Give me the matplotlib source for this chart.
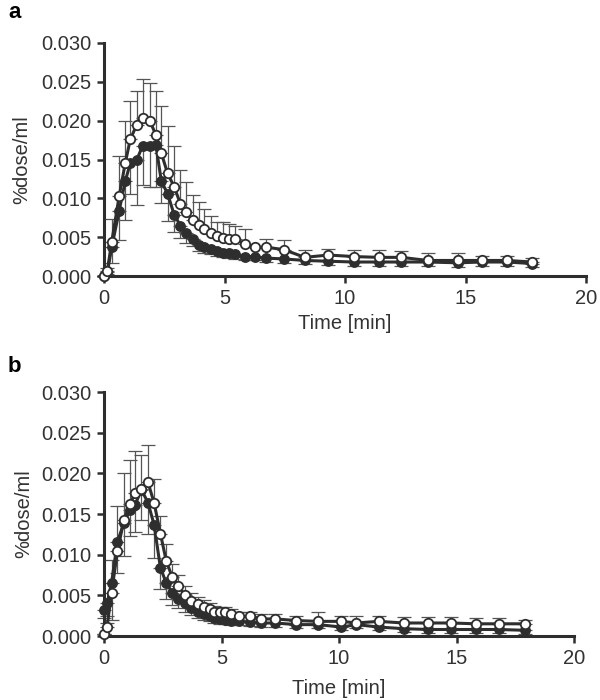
import numpy as np
import matplotlib
matplotlib.use("Agg")
import matplotlib.pyplot as plt

plt.rcParams['font.family'] = ['Liberation Sans', 'DejaVu Sans']

# ---------------- Panel a ----------------
a_t = [0, 0.14, 0.32, 0.63, 0.88, 1.09, 1.35, 1.61, 1.91, 2.15, 2.38, 2.64, 2.91,
       3.17, 3.42, 3.68, 3.93, 4.17, 4.42, 4.68, 4.93, 5.18, 5.43, 5.86, 6.25,
       6.74, 7.46, 8.33, 9.31, 10.39, 11.40, 12.34, 13.43, 14.68, 15.70, 16.72, 17.77]
a_open = [0.0000, 0.0007, 0.0044, 0.0103, 0.0145, 0.0176, 0.0194, 0.0204, 0.0199,
          0.0182, 0.0158, 0.0132, 0.0115, 0.0093, 0.0082, 0.0072, 0.0066, 0.0061,
          0.0056, 0.0052, 0.0049, 0.0048, 0.0048, 0.0041, 0.0037, 0.0037, 0.0034,
          0.0024, 0.0027, 0.0025, 0.0024, 0.0024, 0.0020, 0.0020, 0.0020, 0.0020, 0.0018]
a_open_err = [0.0000, 0.0003, 0.0029, 0.0051, 0.0054, 0.0049, 0.0044, 0.0050, 0.0050,
              0.0056, 0.0061, 0.0061, 0.0053, 0.0044, 0.0039, 0.0032, 0.0029, 0.0025,
              0.0021, 0.0018, 0.0020, 0.0019, 0.0016, 0.0020, 0.0000, 0.0011, 0.0012,
              0.0009, 0.0008, 0.0008, 0.0009, 0.0008, 0.0010, 0.0009, 0.0006, 0.0006, 0.0005]
a_fill = [0.0000, 0.0005, 0.0037, 0.0084, 0.0122, 0.0145, 0.0149, 0.0168, 0.0168,
          0.0169, 0.0122, 0.0106, 0.0079, 0.0065, 0.0055, 0.0047, 0.0040, 0.0037,
          0.0035, 0.0032, 0.0030, 0.0029, 0.0028, 0.0025, 0.0025, 0.0023, 0.0022,
          0.0020, 0.0019, 0.0018, 0.0018, 0.0018, 0.0018, 0.0017, 0.0018, 0.0018, 0.0016]
a_fill_err = [0.0000, 0.0003, 0.0020, 0.0038, 0.0050, 0.0040, 0.0057, 0.0051, 0.0053,
              0.0054, 0.0028, 0.0035, 0.0022, 0.0016, 0.0013, 0.0009, 0.0008, 0.0007,
              0.0007, 0.0006, 0.0006, 0.0006, 0.0006, 0.0005, 0.0005, 0.0005, 0.0005,
              0.0005, 0.0005, 0.0005, 0.0005, 0.0005, 0.0005, 0.0005, 0.0005, 0.0005, 0.0005]

# ---------------- Panel b ----------------
b_t = [0, 0.13, 0.32, 0.57, 0.85, 1.11, 1.32, 1.59, 1.87, 2.13, 2.40, 2.65, 2.91,
       3.17, 3.45, 3.70, 3.99, 4.24, 4.50, 4.70, 4.92, 5.17, 5.42, 5.74, 6.20,
       6.66, 7.28, 8.19, 9.11, 10.10, 10.74, 11.69, 12.75, 13.79, 14.78, 15.82, 16.80, 17.93]
b_open = [0.0002, 0.0011, 0.0053, 0.0104, 0.0143, 0.0162, 0.0176, 0.0181, 0.0189,
          0.0164, 0.0126, 0.0092, 0.0072, 0.0061, 0.0050, 0.0043, 0.0039, 0.0036,
          0.0033, 0.0030, 0.0029, 0.0029, 0.0027, 0.0024, 0.0024, 0.0021, 0.0021,
          0.0019, 0.0018, 0.0018, 0.0016, 0.0018, 0.0016, 0.0016, 0.0016, 0.0015, 0.0015, 0.0015]
b_open_err = [0.0000, 0.0005, 0.0040, 0.0056, 0.0057, 0.0055, 0.0051, 0.0042, 0.0046,
              0.0029, 0.0022, 0.0021, 0.0016, 0.0014, 0.0012, 0.0010, 0.0009, 0.0008,
              0.0008, 0.0007, 0.0007, 0.0007, 0.0006, 0.0006, 0.0006, 0.0006, 0.0006,
              0.0005, 0.0011, 0.0007, 0.0009, 0.0007, 0.0007, 0.0007, 0.0007, 0.0007, 0.0007, 0.0005]
b_fill = [0.0032, 0.0040, 0.0065, 0.0116, 0.0139, 0.0155, 0.0161, 0.0180, 0.0164,
          0.0137, 0.0084, 0.0065, 0.0053, 0.0046, 0.0040, 0.0035, 0.0030, 0.0027,
          0.0024, 0.0022, 0.0021, 0.0020, 0.0019, 0.0018, 0.0017, 0.0016, 0.0016,
          0.0014, 0.0014, 0.0011, 0.0014, 0.0011, 0.0009, 0.0008, 0.0008, 0.0008, 0.0008, 0.0007]
b_fill_err = [0.0010, 0.0015, 0.0045, 0.0038, 0.0041, 0.0032, 0.0033, 0.0037, 0.0038,
              0.0041, 0.0026, 0.0020, 0.0015, 0.0012, 0.0010, 0.0009, 0.0008, 0.0007,
              0.0006, 0.0006, 0.0006, 0.0005, 0.0005, 0.0005, 0.0005, 0.0005, 0.0005,
              0.0004, 0.0004, 0.0004, 0.0004, 0.0004, 0.0004, 0.0004, 0.0004, 0.0004, 0.0004, 0.0004]

y_ticks = [0.000, 0.005, 0.010, 0.015, 0.020, 0.025, 0.030]
x_ticks = [0, 5, 10, 15, 20]

DARK = '#2e2e2e'
ERRC = '#555555'
TXT = '#333333'
FS = 14.5

fig = plt.figure(figsize=(6, 7), dpi=100)
ax_a = fig.add_axes([104/600, 1 - 276/700, 482/600, 233/700])
ax_b = fig.add_axes([104/600, 1 - 636/700, 470/600, 244/700])


def draw(ax, t, yo, eo, yf, ef, lpad):
    t = np.asarray(t)
    z = np.zeros(len(t))
    ax.errorbar(t, yf, yerr=[np.asarray(ef), z], fmt='none', ecolor=ERRC,
                elinewidth=0.9, capsize=5, capthick=0.9, zorder=1)
    ax.errorbar(t, yo, yerr=[z, np.asarray(eo)], fmt='none', ecolor=ERRC,
                elinewidth=0.9, capsize=5, capthick=0.9, zorder=1)
    ax.plot(t, yf, '-o', color=DARK, lw=2.2, ms=6.8, mfc=DARK, mec=DARK, zorder=3)
    ax.plot(t, yo, '-o', color=DARK, lw=2.2, ms=6.8, mfc='white', mec=DARK,
            mew=1.3, zorder=4)
    ax.set_xlim(0, 20)
    ax.set_ylim(0, 0.030)
    ax.set_xticks(x_ticks)
    ax.set_yticks(y_ticks)
    ax.set_yticklabels([f'{v:.3f}' for v in y_ticks])
    for s in ['top', 'right']:
        ax.spines[s].set_visible(False)
    for s in ['left', 'bottom']:
        ax.spines[s].set_linewidth(2.2)
        ax.spines[s].set_color(DARK)
    ax.tick_params(axis='both', direction='out', length=5, width=1.8,
                   color=DARK, labelsize=FS, labelcolor=TXT, pad=4)
    ax.set_xlabel('Time [min]', fontsize=FS, color=TXT, labelpad=lpad)
    ax.set_ylabel('%dose/ml', fontsize=FS, color=TXT)
    ax.yaxis.set_label_coords(-0.15, 0.5)
    for art in ax.lines + ax.collections:
        art.set_clip_on(False)


draw(ax_a, a_t, a_open, a_open_err, a_fill, a_fill_err, 5)
draw(ax_b, b_t, b_open, b_open_err, b_fill, b_fill_err, 8)

fig.text(8/600, 1 - 13/700, 'a', fontsize=16, fontweight='bold', va='center', ha='left')
fig.text(8/600, 1 - 366/700, 'b', fontsize=16, fontweight='bold', va='center', ha='left')

fig.savefig('out.png', dpi=100)
